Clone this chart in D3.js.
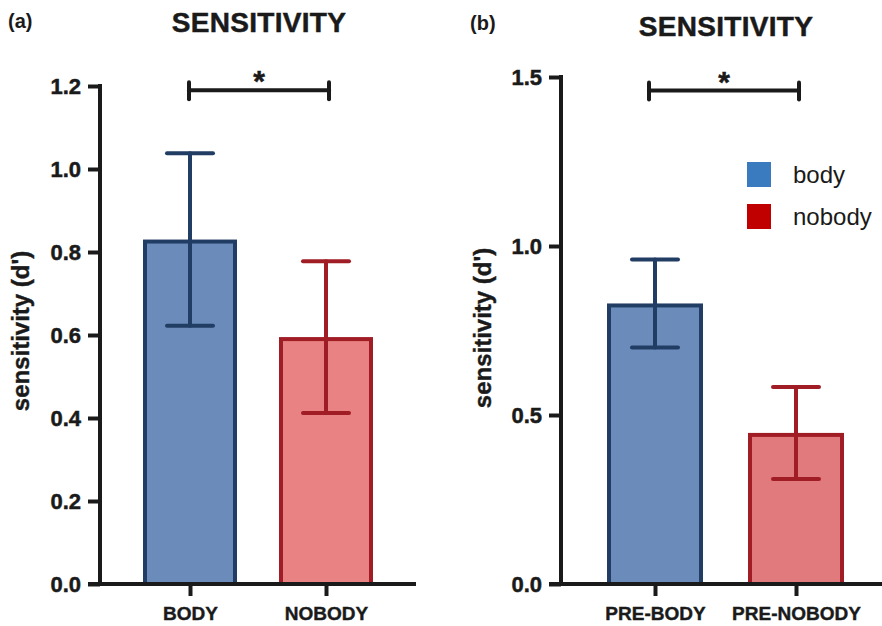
<!DOCTYPE html>
<html><head><meta charset="utf-8">
<script src="https://cdn.jsdelivr.net/npm/d3@7/dist/d3.min.js"></script>
<style>
body{margin:0;background:#fff;}
svg{display:block;}
text{font-family:"Liberation Sans",Arial,sans-serif;}
</style></head>
<body>
<svg id="c" width="882" height="626"></svg>
<script>
// ---- data ----
const catsA = ["BODY", "NOBODY"];
const meansA = [0.83, 0.595];
const errA = [0.208, 0.183];
const yTicksA = [0.0, 0.2, 0.4, 0.6, 0.8, 1.0, 1.2];

const catsB = ["PRE-BODY", "PRE-NOBODY"];
const meansB = [0.83, 0.447];
const errB = [0.13, 0.136];
const yTicksB = [0.0, 0.5, 1.0, 1.5];

const sigA = {level: 1.19, label: "*"};
const sigB = {level: 1.46, label: "*"};

const legendLabels = ["body", "nobody"];
const titles = ["SENSITIVITY", "SENSITIVITY"];
const panelLabels = ["(a)", "(b)"];
const yLabel = "sensitivity (d')";

// ---- styles ----
const fills = [["#6b8cba", "#e98282"], ["#6b8cba", "#e07a7d"]];
const strokes = ["#223d64", "#a11d26"];
const legendColors = ["#3a7bc0", "#c00000"];
const ink = "#1a1a1a";

const svg = d3.select("#c");

function heavy(sel, w) {
  return sel.attr("stroke", ink).attr("stroke-width", w).attr("paint-order", "stroke");
}

function panel(cfg) {
  const g = svg.append("g");
  const y = d3.scaleLinear().domain(cfg.yDomain).range([584, cfg.yTop]);
  const x = d3.scalePoint().domain(cfg.cats).range(cfg.xRange);

  // bars
  g.selectAll("rect.bar").data(cfg.cats).join("rect")
    .attr("x", d => x(d) - cfg.bw / 2 + 2)
    .attr("width", cfg.bw - 4)
    .attr("y", (d, i) => y(cfg.means[i]) + 2)
    .attr("height", (d, i) => y(0) - y(cfg.means[i]) - 2)
    .attr("fill", (d, i) => cfg.fills[i])
    .attr("stroke", (d, i) => strokes[i])
    .attr("stroke-width", 4);

  // error bars
  cfg.cats.forEach((d, i) => {
    const cx = x(d), hi = y(cfg.means[i] + cfg.err[i]), lo = y(cfg.means[i] - cfg.err[i]);
    const eg = g.append("g").attr("stroke", strokes[i]).attr("stroke-width", 4).attr("stroke-linecap", "round");
    eg.append("line").attr("x1", cx).attr("x2", cx).attr("y1", hi).attr("y2", lo);
    eg.append("line").attr("x1", cx - 23).attr("x2", cx + 23).attr("y1", hi).attr("y2", hi);
    eg.append("line").attr("x1", cx - 23).attr("x2", cx + 23).attr("y1", lo).attr("y2", lo);
  });

  // y axis
  const ya = g.append("g").attr("transform", `translate(${cfg.axisX},0)`)
    .call(d3.axisLeft(y).tickValues(cfg.yTicks).tickFormat(d3.format(".1f")).tickSize(12).tickSizeOuter(0).tickPadding(7));
  ya.select(".domain").remove();
  ya.selectAll(".tick line").attr("stroke", ink).attr("stroke-width", 4);
  heavy(ya.selectAll(".tick text").attr("fill", ink).attr("font-size", 22).attr("font-weight", "bold").attr("dy", "0.35em"), 0.5);
  g.append("line").attr("x1", cfg.axisX).attr("x2", cfg.axisX).attr("y1", y(cfg.yDomain[1]) - 2).attr("y2", y(0))
    .attr("stroke", ink).attr("stroke-width", 4);

  // x axis
  const xa = g.append("g").attr("transform", `translate(0,${y(0)})`)
    .call(d3.axisBottom(x).tickSize(12).tickSizeOuter(0).tickPadding(11));
  xa.select(".domain").remove();
  xa.selectAll(".tick line").attr("stroke", ink).attr("stroke-width", 4);
  heavy(xa.selectAll(".tick text").attr("fill", ink).attr("font-size", 19).attr("font-weight", "bold"), 0.4);
  g.append("line").attr("x1", cfg.axisX - 12).attr("x2", cfg.xEnd).attr("y1", y(0)).attr("y2", y(0))
    .attr("stroke", ink).attr("stroke-width", 4);

  // significance bracket
  const sy = y(cfg.sig.level), x1 = x(cfg.cats[0]) + cfg.brL, x2 = x(cfg.cats[1]) + cfg.brR;
  const bg = g.append("g").attr("stroke", ink).attr("stroke-width", 4).attr("stroke-linecap", "round");
  bg.append("line").attr("x1", x1).attr("x2", x2).attr("y1", sy).attr("y2", sy);
  bg.append("line").attr("x1", x1).attr("x2", x1).attr("y1", sy - 8).attr("y2", sy + 9);
  bg.append("line").attr("x1", x2).attr("x2", x2).attr("y1", sy - 8).attr("y2", sy + 9);
  heavy(g.append("text").attr("x", (x1 + x2) / 2).attr("y", sy + 1).attr("text-anchor", "middle")
    .attr("font-size", 30).attr("font-weight", "bold").attr("fill", ink).text(cfg.sig.label), 0.5);

  // y label
  heavy(g.append("text").attr("transform", `translate(${cfg.yLabX},${cfg.yLabY}) rotate(-90)`)
    .attr("text-anchor", "middle").attr("font-size", 24).attr("font-weight", "bold").attr("fill", ink)
    .text(yLabel), 0.4);

  // title
  heavy(g.append("text").attr("x", cfg.titleX).attr("y", cfg.titleY).attr("text-anchor", "middle")
    .attr("font-size", 28).attr("font-weight", "bold").attr("letter-spacing", 0.3).attr("fill", ink).text(cfg.title), 0.5);
  g.append("text").attr("x", cfg.plX).attr("y", cfg.plY)
    .attr("font-size", 20).attr("font-weight", "bold").attr("fill", ink).text(cfg.pl);
  return {x, y};
}

panel({cats: catsA, means: meansA, err: errA, yTicks: yTicksA, yDomain: [0, 1.2], yTop: 86,
  xRange: [190, 326], bw: 94, axisX: 100, xEnd: 416, fills: fills[0], sig: sigA, brL: -1, brR: 3,
  yLabX: 29, yLabY: 331, titleX: 259, titleY: 32, title: titles[0], plX: 8, plY: 28, pl: panelLabels[0]});

panel({cats: catsB, means: meansB, err: errB, yTicks: yTicksB, yDomain: [0, 1.5], yTop: 77,
  xRange: [655, 796], bw: 96, axisX: 561, xEnd: 882, fills: fills[1], sig: sigB, brL: -6, brR: 3,
  yLabX: 491, yLabY: 328, titleX: 726, titleY: 36, title: titles[1], plX: 470, plY: 30, pl: panelLabels[1]});

// legend
const lg = svg.append("g").attr("transform", "translate(747,162)");
legendLabels.forEach((lab, i) => {
  lg.append("rect").attr("x", 0).attr("y", i * 42).attr("width", 24).attr("height", 25).attr("fill", legendColors[i]);
  lg.append("text").attr("x", 46).attr("y", i * 42 + 21).attr("font-family", "Lato, 'Open Sans', sans-serif")
    .attr("font-size", 24).attr("fill", ink).text(lab);
});
</script>
</body></html>
